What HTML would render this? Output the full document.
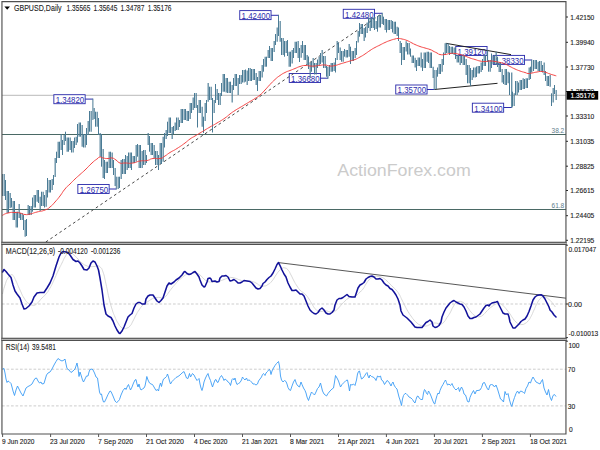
<!DOCTYPE html><html><head><meta charset="utf-8"><title>GBPUSD Daily</title><style>
html,body{margin:0;padding:0;background:#fff;}body{width:600px;height:450px;overflow:hidden;}svg{display:block;}
text{font-family:"Liberation Sans",sans-serif;}
.ax{font-size:7.35px;fill:#222;stroke:#222;stroke-width:0.12px;}.lb{font-size:8.9px;fill:#2c2cac;}.tt{font-size:8.6px;fill:#222;stroke:#222;stroke-width:0.1px;}.fib{font-size:7.2px;fill:#5c7b8a;}
</style></head><body>
<svg width="600" height="450" viewBox="0 0 600 450">
<rect width="600" height="450" fill="#fff"/>
<text x="337.3" y="176.3" font-size="17.2" fill="#cbcbcb" textLength="133.4" lengthAdjust="spacingAndGlyphs">ActionForex.com</text>
<line x1="2" y1="134.5" x2="566" y2="134.5" stroke="#4a6965" stroke-width="1"/>
<line x1="2" y1="209.5" x2="566" y2="209.5" stroke="#4a6965" stroke-width="1"/>
<text class="fib" x="551.5" y="132.9" textLength="12.7" lengthAdjust="spacingAndGlyphs">38.2</text>
<text class="fib" x="551.5" y="207.9" textLength="12.7" lengthAdjust="spacingAndGlyphs">61.8</text>
<line x1="2" y1="95.3" x2="566" y2="95.3" stroke="#b9b9b9" stroke-width="1"/>
<line x1="85.1" y1="99.1" x2="92.9" y2="99.1" stroke="#2c2cac" stroke-width="1"/>
<rect x="53.85" y="94.70" width="31.3" height="9" fill="#fff" stroke="#2c2cac" stroke-width="0.92"/>
<text class="lb" x="55.7" y="103.1" textLength="28.5" lengthAdjust="spacingAndGlyphs">1.34820</text>
<line x1="109.1" y1="189.0" x2="116.3" y2="189.0" stroke="#2c2cac" stroke-width="1"/>
<rect x="77.85" y="184.50" width="31.3" height="9" fill="#fff" stroke="#2c2cac" stroke-width="0.92"/>
<text class="lb" x="79.7" y="192.9" textLength="28.5" lengthAdjust="spacingAndGlyphs">1.26750</text>
<line x1="271.0" y1="15.3" x2="278.5" y2="15.3" stroke="#2c2cac" stroke-width="1"/>
<rect x="239.75" y="10.60" width="31.3" height="9" fill="#fff" stroke="#2c2cac" stroke-width="0.92"/>
<text class="lb" x="241.6" y="19.0" textLength="28.5" lengthAdjust="spacingAndGlyphs">1.42400</text>
<line x1="320.5" y1="78.2" x2="327.9" y2="78.2" stroke="#2c2cac" stroke-width="1"/>
<rect x="289.25" y="73.50" width="31.3" height="9" fill="#fff" stroke="#2c2cac" stroke-width="0.92"/>
<text class="lb" x="291.1" y="81.9" textLength="28.5" lengthAdjust="spacingAndGlyphs">1.36680</text>
<line x1="374.5" y1="13.3" x2="382.2" y2="13.3" stroke="#2c2cac" stroke-width="1"/>
<rect x="343.25" y="9.30" width="31.3" height="9" fill="#fff" stroke="#2c2cac" stroke-width="0.92"/>
<text class="lb" x="345.1" y="17.7" textLength="28.5" lengthAdjust="spacingAndGlyphs">1.42480</text>
<line x1="427.0" y1="89.5" x2="434.2" y2="89.5" stroke="#2c2cac" stroke-width="1"/>
<rect x="395.75" y="85.00" width="31.3" height="9" fill="#fff" stroke="#2c2cac" stroke-width="0.92"/>
<text class="lb" x="397.6" y="93.4" textLength="28.5" lengthAdjust="spacingAndGlyphs">1.35700</text>
<rect x="455.75" y="46.50" width="31.3" height="9" fill="#fff" stroke="#2c2cac" stroke-width="0.92"/>
<text class="lb" x="457.6" y="54.9" textLength="28.5" lengthAdjust="spacingAndGlyphs">1.39120</text>
<line x1="524.5" y1="60.0" x2="531.7" y2="60.0" stroke="#2c2cac" stroke-width="1"/>
<rect x="493.25" y="55.40" width="31.3" height="9" fill="#fff" stroke="#2c2cac" stroke-width="0.92"/>
<text class="lb" x="495.1" y="63.8" textLength="28.5" lengthAdjust="spacingAndGlyphs">1.38330</text>
<line x1="503.6" y1="107.5" x2="511.75" y2="107.5" stroke="#2c2cac" stroke-width="1"/>
<rect x="472.35" y="103.20" width="31.3" height="9" fill="#fff" stroke="#2c2cac" stroke-width="0.92"/>
<text class="lb" x="474.2" y="111.6" textLength="28.5" lengthAdjust="spacingAndGlyphs">1.34100</text>
<line x1="45.8" y1="242" x2="381" y2="14.2" stroke="#484848" stroke-width="1" stroke-dasharray="2.7 2.8"/>
<line x1="445.8" y1="43.3" x2="511" y2="54.6" stroke="#222" stroke-width="1"/>
<line x1="434.2" y1="89.5" x2="497.5" y2="83.3" stroke="#222" stroke-width="1"/>
<g stroke="#4a7b95">
<line x1="2.50" y1="174.0" x2="2.50" y2="196.0" stroke-width="1.0"/>
<line x1="4.17" y1="174.0" x2="4.17" y2="196.0" stroke-width="1.16"/>
<line x1="5.50" y1="180.0" x2="5.50" y2="200.0" stroke-width="1.0"/>
<line x1="7.17" y1="191.0" x2="7.17" y2="213.0" stroke-width="1.16"/>
<line x1="8.50" y1="191.0" x2="8.50" y2="213.0" stroke-width="1.0"/>
<line x1="10.17" y1="193.0" x2="10.17" y2="208.0" stroke-width="1.16"/>
<line x1="11.50" y1="198.0" x2="11.50" y2="207.5" stroke-width="1.0"/>
<line x1="13.17" y1="201.0" x2="13.17" y2="220.0" stroke-width="1.16"/>
<line x1="14.50" y1="201.0" x2="14.50" y2="220.0" stroke-width="1.0"/>
<line x1="16.17" y1="211.7" x2="16.17" y2="227.5" stroke-width="1.16"/>
<line x1="17.50" y1="211.7" x2="17.50" y2="227.5" stroke-width="1.0"/>
<line x1="19.17" y1="204.0" x2="19.17" y2="218.0" stroke-width="1.16"/>
<line x1="20.50" y1="213.0" x2="20.50" y2="220.0" stroke-width="1.0"/>
<line x1="22.17" y1="213.0" x2="22.17" y2="220.0" stroke-width="1.16"/>
<line x1="23.50" y1="215.0" x2="23.50" y2="230.0" stroke-width="1.0"/>
<line x1="25.17" y1="220.0" x2="25.17" y2="236.7" stroke-width="1.16"/>
<line x1="26.50" y1="219.0" x2="26.50" y2="236.0" stroke-width="1.0"/>
<line x1="28.17" y1="205.0" x2="28.17" y2="215.0" stroke-width="1.16"/>
<line x1="29.50" y1="206.0" x2="29.50" y2="215.0" stroke-width="1.0"/>
<line x1="31.17" y1="206.0" x2="31.17" y2="215.0" stroke-width="1.16"/>
<line x1="32.50" y1="197.5" x2="32.50" y2="211.7" stroke-width="1.0"/>
<line x1="34.17" y1="195.0" x2="34.17" y2="207.5" stroke-width="1.16"/>
<line x1="35.50" y1="195.0" x2="35.50" y2="207.5" stroke-width="1.0"/>
<line x1="37.17" y1="190.0" x2="37.17" y2="201.7" stroke-width="1.16"/>
<line x1="38.50" y1="190.0" x2="38.50" y2="203.0" stroke-width="1.0"/>
<line x1="40.17" y1="196.7" x2="40.17" y2="211.0" stroke-width="1.16"/>
<line x1="41.50" y1="191.7" x2="41.50" y2="206.0" stroke-width="1.0"/>
<line x1="43.17" y1="191.7" x2="43.17" y2="206.0" stroke-width="1.16"/>
<line x1="44.50" y1="195.0" x2="44.50" y2="207.5" stroke-width="1.0"/>
<line x1="46.17" y1="190.0" x2="46.17" y2="206.7" stroke-width="1.16"/>
<line x1="47.50" y1="178.0" x2="47.50" y2="197.5" stroke-width="1.0"/>
<line x1="49.17" y1="180.0" x2="49.17" y2="192.5" stroke-width="1.16"/>
<line x1="50.50" y1="180.0" x2="50.50" y2="192.5" stroke-width="1.0"/>
<line x1="52.17" y1="179.0" x2="52.17" y2="190.0" stroke-width="1.16"/>
<line x1="53.50" y1="175.0" x2="53.50" y2="185.0" stroke-width="1.0"/>
<line x1="55.17" y1="158.0" x2="55.17" y2="177.0" stroke-width="1.16"/>
<line x1="56.50" y1="151.7" x2="56.50" y2="163.0" stroke-width="1.0"/>
<line x1="58.17" y1="141.7" x2="58.17" y2="158.0" stroke-width="1.16"/>
<line x1="59.50" y1="141.7" x2="59.50" y2="158.0" stroke-width="1.0"/>
<line x1="61.17" y1="134.0" x2="61.17" y2="150.0" stroke-width="1.16"/>
<line x1="62.50" y1="140.0" x2="62.50" y2="155.0" stroke-width="1.0"/>
<line x1="64.17" y1="135.0" x2="64.17" y2="145.0" stroke-width="1.16"/>
<line x1="65.50" y1="131.7" x2="65.50" y2="141.0" stroke-width="1.0"/>
<line x1="67.17" y1="137.5" x2="67.17" y2="151.7" stroke-width="1.16"/>
<line x1="68.50" y1="137.5" x2="68.50" y2="151.7" stroke-width="1.0"/>
<line x1="70.17" y1="137.5" x2="70.17" y2="150.0" stroke-width="1.16"/>
<line x1="71.50" y1="141.0" x2="71.50" y2="152.5" stroke-width="1.0"/>
<line x1="73.17" y1="141.0" x2="73.17" y2="152.5" stroke-width="1.16"/>
<line x1="74.50" y1="137.5" x2="74.50" y2="148.0" stroke-width="1.0"/>
<line x1="76.17" y1="136.7" x2="76.17" y2="145.0" stroke-width="1.16"/>
<line x1="77.50" y1="124.0" x2="77.50" y2="142.5" stroke-width="1.0"/>
<line x1="79.17" y1="122.5" x2="79.17" y2="136.7" stroke-width="1.16"/>
<line x1="80.50" y1="122.5" x2="80.50" y2="136.7" stroke-width="1.0"/>
<line x1="82.17" y1="125.0" x2="82.17" y2="146.7" stroke-width="1.16"/>
<line x1="83.50" y1="134.0" x2="83.50" y2="147.5" stroke-width="1.0"/>
<line x1="85.17" y1="134.0" x2="85.17" y2="147.5" stroke-width="1.16"/>
<line x1="86.50" y1="128.0" x2="86.50" y2="145.0" stroke-width="1.0"/>
<line x1="88.17" y1="121.0" x2="88.17" y2="135.0" stroke-width="1.16"/>
<line x1="89.50" y1="111.0" x2="89.50" y2="131.7" stroke-width="1.0"/>
<line x1="91.17" y1="111.0" x2="91.17" y2="131.7" stroke-width="1.16"/>
<line x1="92.90" y1="98.6" x2="92.90" y2="120.0" stroke-width="1.0"/>
<line x1="94.17" y1="108.0" x2="94.17" y2="119.0" stroke-width="1.16"/>
<line x1="95.50" y1="111.7" x2="95.50" y2="126.7" stroke-width="1.0"/>
<line x1="97.17" y1="111.7" x2="97.17" y2="126.7" stroke-width="1.16"/>
<line x1="98.50" y1="118.0" x2="98.50" y2="135.0" stroke-width="1.0"/>
<line x1="100.17" y1="133.0" x2="100.17" y2="156.7" stroke-width="1.16"/>
<line x1="101.50" y1="134.0" x2="101.50" y2="166.7" stroke-width="1.0"/>
<line x1="103.17" y1="149.0" x2="103.17" y2="178.0" stroke-width="1.16"/>
<line x1="104.50" y1="160.0" x2="104.50" y2="179.0" stroke-width="1.0"/>
<line x1="106.17" y1="161.7" x2="106.17" y2="173.0" stroke-width="1.16"/>
<line x1="107.50" y1="161.7" x2="107.50" y2="173.0" stroke-width="1.0"/>
<line x1="109.17" y1="151.7" x2="109.17" y2="168.0" stroke-width="1.16"/>
<line x1="110.50" y1="151.7" x2="110.50" y2="168.0" stroke-width="1.0"/>
<line x1="112.17" y1="152.5" x2="112.17" y2="168.0" stroke-width="1.16"/>
<line x1="113.50" y1="160.0" x2="113.50" y2="175.0" stroke-width="1.0"/>
<line x1="115.17" y1="168.0" x2="115.17" y2="186.0" stroke-width="1.16"/>
<line x1="116.30" y1="176.7" x2="116.30" y2="189.5" stroke-width="1.0"/>
<line x1="118.17" y1="176.7" x2="118.17" y2="189.0" stroke-width="1.16"/>
<line x1="119.50" y1="176.7" x2="119.50" y2="188.0" stroke-width="1.0"/>
<line x1="121.17" y1="160.0" x2="121.17" y2="179.0" stroke-width="1.16"/>
<line x1="122.50" y1="159.0" x2="122.50" y2="174.0" stroke-width="1.0"/>
<line x1="124.17" y1="159.0" x2="124.17" y2="174.0" stroke-width="1.16"/>
<line x1="125.50" y1="155.0" x2="125.50" y2="174.0" stroke-width="1.0"/>
<line x1="127.17" y1="156.0" x2="127.17" y2="170.0" stroke-width="1.16"/>
<line x1="128.50" y1="152.5" x2="128.50" y2="168.0" stroke-width="1.0"/>
<line x1="130.17" y1="152.5" x2="130.17" y2="168.0" stroke-width="1.16"/>
<line x1="131.50" y1="152.5" x2="131.50" y2="170.0" stroke-width="1.0"/>
<line x1="133.17" y1="156.0" x2="133.17" y2="163.0" stroke-width="1.16"/>
<line x1="134.50" y1="156.0" x2="134.50" y2="163.0" stroke-width="1.0"/>
<line x1="136.17" y1="145.0" x2="136.17" y2="161.7" stroke-width="1.16"/>
<line x1="137.50" y1="144.0" x2="137.50" y2="156.7" stroke-width="1.0"/>
<line x1="139.17" y1="145.0" x2="139.17" y2="168.0" stroke-width="1.16"/>
<line x1="140.50" y1="145.0" x2="140.50" y2="168.0" stroke-width="1.0"/>
<line x1="142.17" y1="151.0" x2="142.17" y2="168.0" stroke-width="1.16"/>
<line x1="143.50" y1="150.0" x2="143.50" y2="165.0" stroke-width="1.0"/>
<line x1="145.17" y1="150.0" x2="145.17" y2="165.0" stroke-width="1.16"/>
<line x1="146.50" y1="155.0" x2="146.50" y2="163.0" stroke-width="1.0"/>
<line x1="148.17" y1="133.0" x2="148.17" y2="145.0" stroke-width="1.16"/>
<line x1="149.50" y1="136.0" x2="149.50" y2="151.7" stroke-width="1.0"/>
<line x1="151.17" y1="143.0" x2="151.17" y2="155.0" stroke-width="1.16"/>
<line x1="152.50" y1="143.0" x2="152.50" y2="155.0" stroke-width="1.0"/>
<line x1="154.17" y1="145.0" x2="154.17" y2="158.0" stroke-width="1.16"/>
<line x1="155.50" y1="151.0" x2="155.50" y2="165.0" stroke-width="1.0"/>
<line x1="157.17" y1="151.0" x2="157.17" y2="165.0" stroke-width="1.16"/>
<line x1="158.50" y1="155.0" x2="158.50" y2="170.0" stroke-width="1.0"/>
<line x1="160.17" y1="143.0" x2="160.17" y2="164.0" stroke-width="1.16"/>
<line x1="161.50" y1="143.0" x2="161.50" y2="164.0" stroke-width="1.0"/>
<line x1="163.17" y1="136.7" x2="163.17" y2="161.7" stroke-width="1.16"/>
<line x1="164.50" y1="133.0" x2="164.50" y2="147.5" stroke-width="1.0"/>
<line x1="166.17" y1="130.0" x2="166.17" y2="139.0" stroke-width="1.16"/>
<line x1="167.50" y1="121.7" x2="167.50" y2="136.0" stroke-width="1.0"/>
<line x1="169.17" y1="117.5" x2="169.17" y2="133.0" stroke-width="1.16"/>
<line x1="170.50" y1="117.5" x2="170.50" y2="133.0" stroke-width="1.0"/>
<line x1="172.17" y1="127.0" x2="172.17" y2="139.0" stroke-width="1.16"/>
<line x1="173.50" y1="126.0" x2="173.50" y2="134.0" stroke-width="1.0"/>
<line x1="175.17" y1="122.5" x2="175.17" y2="131.0" stroke-width="1.16"/>
<line x1="176.50" y1="117.5" x2="176.50" y2="130.0" stroke-width="1.0"/>
<line x1="178.17" y1="117.5" x2="178.17" y2="130.0" stroke-width="1.16"/>
<line x1="179.50" y1="120.0" x2="179.50" y2="127.0" stroke-width="1.0"/>
<line x1="181.17" y1="109.0" x2="181.17" y2="123.0" stroke-width="1.16"/>
<line x1="182.50" y1="109.0" x2="182.50" y2="123.0" stroke-width="1.0"/>
<line x1="184.17" y1="109.0" x2="184.17" y2="120.0" stroke-width="1.16"/>
<line x1="185.50" y1="109.0" x2="185.50" y2="120.0" stroke-width="1.0"/>
<line x1="187.17" y1="111.0" x2="187.17" y2="121.0" stroke-width="1.16"/>
<line x1="188.50" y1="111.0" x2="188.50" y2="121.0" stroke-width="1.0"/>
<line x1="190.17" y1="103.0" x2="190.17" y2="119.0" stroke-width="1.16"/>
<line x1="191.50" y1="103.0" x2="191.50" y2="113.0" stroke-width="1.0"/>
<line x1="193.17" y1="97.5" x2="193.17" y2="110.0" stroke-width="1.16"/>
<line x1="194.50" y1="93.0" x2="194.50" y2="108.0" stroke-width="1.0"/>
<line x1="196.17" y1="93.0" x2="196.17" y2="108.0" stroke-width="1.16"/>
<line x1="197.50" y1="105.0" x2="197.50" y2="127.5" stroke-width="1.0"/>
<line x1="199.17" y1="100.0" x2="199.17" y2="113.0" stroke-width="1.16"/>
<line x1="200.50" y1="100.0" x2="200.50" y2="113.0" stroke-width="1.0"/>
<line x1="202.17" y1="106.7" x2="202.17" y2="126.7" stroke-width="1.16"/>
<line x1="203.50" y1="116.7" x2="203.50" y2="133.0" stroke-width="1.0"/>
<line x1="205.17" y1="103.0" x2="205.17" y2="121.0" stroke-width="1.16"/>
<line x1="206.50" y1="100.0" x2="206.50" y2="113.0" stroke-width="1.0"/>
<line x1="208.17" y1="83.0" x2="208.17" y2="101.7" stroke-width="1.16"/>
<line x1="209.50" y1="86.7" x2="209.50" y2="100.0" stroke-width="1.0"/>
<line x1="211.17" y1="86.7" x2="211.17" y2="100.0" stroke-width="1.16"/>
<line x1="212.50" y1="98.0" x2="212.50" y2="132.5" stroke-width="1.0"/>
<line x1="214.17" y1="100.0" x2="214.17" y2="113.0" stroke-width="1.16"/>
<line x1="215.50" y1="84.0" x2="215.50" y2="103.0" stroke-width="1.0"/>
<line x1="217.17" y1="89.0" x2="217.17" y2="100.0" stroke-width="1.16"/>
<line x1="218.50" y1="93.0" x2="218.50" y2="105.0" stroke-width="1.0"/>
<line x1="220.17" y1="93.0" x2="220.17" y2="105.0" stroke-width="1.16"/>
<line x1="221.50" y1="83.0" x2="221.50" y2="96.0" stroke-width="1.0"/>
<line x1="223.17" y1="74.0" x2="223.17" y2="91.7" stroke-width="1.16"/>
<line x1="224.50" y1="74.0" x2="224.50" y2="91.7" stroke-width="1.0"/>
<line x1="226.17" y1="78.0" x2="226.17" y2="92.5" stroke-width="1.16"/>
<line x1="227.50" y1="78.0" x2="227.50" y2="93.0" stroke-width="1.0"/>
<line x1="229.17" y1="81.7" x2="229.17" y2="93.0" stroke-width="1.16"/>
<line x1="230.50" y1="81.7" x2="230.50" y2="93.0" stroke-width="1.0"/>
<line x1="232.17" y1="85.0" x2="232.17" y2="102.5" stroke-width="1.16"/>
<line x1="233.50" y1="78.0" x2="233.50" y2="90.0" stroke-width="1.0"/>
<line x1="235.17" y1="74.0" x2="235.17" y2="86.0" stroke-width="1.16"/>
<line x1="236.50" y1="74.0" x2="236.50" y2="86.0" stroke-width="1.0"/>
<line x1="238.17" y1="78.0" x2="238.17" y2="95.0" stroke-width="1.16"/>
<line x1="239.50" y1="75.0" x2="239.50" y2="84.0" stroke-width="1.0"/>
<line x1="241.17" y1="75.0" x2="241.17" y2="84.0" stroke-width="1.16"/>
<line x1="242.50" y1="70.0" x2="242.50" y2="82.5" stroke-width="1.0"/>
<line x1="244.17" y1="70.0" x2="244.17" y2="82.5" stroke-width="1.16"/>
<line x1="245.50" y1="69.5" x2="245.50" y2="81.7" stroke-width="1.0"/>
<line x1="247.17" y1="70.5" x2="247.17" y2="85.0" stroke-width="1.16"/>
<line x1="248.50" y1="68.0" x2="248.50" y2="81.0" stroke-width="1.0"/>
<line x1="250.17" y1="68.0" x2="250.17" y2="81.0" stroke-width="1.16"/>
<line x1="251.50" y1="69.0" x2="251.50" y2="81.0" stroke-width="1.0"/>
<line x1="253.17" y1="69.0" x2="253.17" y2="80.0" stroke-width="1.16"/>
<line x1="254.50" y1="69.0" x2="254.50" y2="80.0" stroke-width="1.0"/>
<line x1="256.17" y1="73.0" x2="256.17" y2="85.0" stroke-width="1.16"/>
<line x1="257.50" y1="77.0" x2="257.50" y2="91.0" stroke-width="1.0"/>
<line x1="259.17" y1="71.0" x2="259.17" y2="81.0" stroke-width="1.16"/>
<line x1="260.50" y1="71.0" x2="260.50" y2="81.0" stroke-width="1.0"/>
<line x1="262.17" y1="65.0" x2="262.17" y2="77.5" stroke-width="1.16"/>
<line x1="263.50" y1="59.0" x2="263.50" y2="71.7" stroke-width="1.0"/>
<line x1="265.17" y1="56.7" x2="265.17" y2="66.7" stroke-width="1.16"/>
<line x1="266.50" y1="56.7" x2="266.50" y2="66.7" stroke-width="1.0"/>
<line x1="268.17" y1="50.0" x2="268.17" y2="58.0" stroke-width="1.16"/>
<line x1="269.50" y1="46.0" x2="269.50" y2="58.0" stroke-width="1.0"/>
<line x1="271.17" y1="48.0" x2="271.17" y2="61.0" stroke-width="1.16"/>
<line x1="272.50" y1="48.0" x2="272.50" y2="61.0" stroke-width="1.0"/>
<line x1="274.17" y1="41.0" x2="274.17" y2="52.0" stroke-width="1.16"/>
<line x1="275.50" y1="34.0" x2="275.50" y2="45.0" stroke-width="1.0"/>
<line x1="277.17" y1="27.5" x2="277.17" y2="41.7" stroke-width="1.16"/>
<line x1="278.50" y1="14.8" x2="278.50" y2="36.0" stroke-width="1.0"/>
<line x1="280.17" y1="21.0" x2="280.17" y2="41.7" stroke-width="1.16"/>
<line x1="281.50" y1="38.0" x2="281.50" y2="55.0" stroke-width="1.0"/>
<line x1="283.17" y1="38.0" x2="283.17" y2="55.0" stroke-width="1.16"/>
<line x1="284.50" y1="41.0" x2="284.50" y2="56.7" stroke-width="1.0"/>
<line x1="286.17" y1="41.0" x2="286.17" y2="53.0" stroke-width="1.16"/>
<line x1="287.50" y1="40.0" x2="287.50" y2="56.0" stroke-width="1.0"/>
<line x1="289.17" y1="51.7" x2="289.17" y2="66.7" stroke-width="1.16"/>
<line x1="290.50" y1="51.7" x2="290.50" y2="66.7" stroke-width="1.0"/>
<line x1="292.17" y1="50.0" x2="292.17" y2="63.5" stroke-width="1.16"/>
<line x1="293.50" y1="48.0" x2="293.50" y2="58.0" stroke-width="1.0"/>
<line x1="295.17" y1="41.7" x2="295.17" y2="53.0" stroke-width="1.16"/>
<line x1="296.50" y1="41.7" x2="296.50" y2="53.0" stroke-width="1.0"/>
<line x1="298.17" y1="41.0" x2="298.17" y2="58.0" stroke-width="1.16"/>
<line x1="299.50" y1="48.0" x2="299.50" y2="62.0" stroke-width="1.0"/>
<line x1="301.17" y1="45.0" x2="301.17" y2="57.7" stroke-width="1.16"/>
<line x1="302.50" y1="41.0" x2="302.50" y2="53.0" stroke-width="1.0"/>
<line x1="304.17" y1="45.0" x2="304.17" y2="60.0" stroke-width="1.16"/>
<line x1="305.50" y1="45.0" x2="305.50" y2="60.0" stroke-width="1.0"/>
<line x1="307.17" y1="55.0" x2="307.17" y2="65.0" stroke-width="1.16"/>
<line x1="308.50" y1="56.5" x2="308.50" y2="69.0" stroke-width="1.0"/>
<line x1="310.17" y1="63.0" x2="310.17" y2="78.0" stroke-width="1.16"/>
<line x1="311.50" y1="61.5" x2="311.50" y2="71.7" stroke-width="1.0"/>
<line x1="313.17" y1="58.0" x2="313.17" y2="67.5" stroke-width="1.16"/>
<line x1="314.50" y1="63.0" x2="314.50" y2="74.5" stroke-width="1.0"/>
<line x1="316.17" y1="63.0" x2="316.17" y2="74.5" stroke-width="1.16"/>
<line x1="317.50" y1="59.5" x2="317.50" y2="68.0" stroke-width="1.0"/>
<line x1="319.17" y1="56.7" x2="319.17" y2="65.5" stroke-width="1.16"/>
<line x1="320.50" y1="53.0" x2="320.50" y2="64.0" stroke-width="1.0"/>
<line x1="322.17" y1="50.0" x2="322.17" y2="62.5" stroke-width="1.16"/>
<line x1="323.50" y1="56.0" x2="323.50" y2="68.0" stroke-width="1.0"/>
<line x1="325.17" y1="56.0" x2="325.17" y2="68.0" stroke-width="1.16"/>
<line x1="326.50" y1="66.0" x2="326.50" y2="76.7" stroke-width="1.0"/>
<line x1="327.90" y1="66.7" x2="327.90" y2="78.7" stroke-width="1.16"/>
<line x1="329.50" y1="65.0" x2="329.50" y2="76.0" stroke-width="1.0"/>
<line x1="331.17" y1="63.0" x2="331.17" y2="71.7" stroke-width="1.16"/>
<line x1="332.50" y1="63.0" x2="332.50" y2="71.7" stroke-width="1.0"/>
<line x1="334.17" y1="62.5" x2="334.17" y2="71.0" stroke-width="1.16"/>
<line x1="335.50" y1="58.0" x2="335.50" y2="72.5" stroke-width="1.0"/>
<line x1="337.17" y1="41.0" x2="337.17" y2="60.0" stroke-width="1.16"/>
<line x1="338.50" y1="42.5" x2="338.50" y2="53.0" stroke-width="1.0"/>
<line x1="340.17" y1="47.5" x2="340.17" y2="60.0" stroke-width="1.16"/>
<line x1="341.50" y1="51.0" x2="341.50" y2="61.7" stroke-width="1.0"/>
<line x1="343.17" y1="51.0" x2="343.17" y2="61.7" stroke-width="1.16"/>
<line x1="344.50" y1="49.0" x2="344.50" y2="56.7" stroke-width="1.0"/>
<line x1="346.17" y1="50.0" x2="346.17" y2="57.5" stroke-width="1.16"/>
<line x1="347.50" y1="50.0" x2="347.50" y2="57.5" stroke-width="1.0"/>
<line x1="349.17" y1="44.0" x2="349.17" y2="56.7" stroke-width="1.16"/>
<line x1="350.50" y1="46.7" x2="350.50" y2="64.0" stroke-width="1.0"/>
<line x1="352.17" y1="51.0" x2="352.17" y2="61.0" stroke-width="1.16"/>
<line x1="353.50" y1="51.0" x2="353.50" y2="61.0" stroke-width="1.0"/>
<line x1="355.17" y1="48.0" x2="355.17" y2="58.0" stroke-width="1.16"/>
<line x1="356.50" y1="41.0" x2="356.50" y2="55.0" stroke-width="1.0"/>
<line x1="358.17" y1="31.0" x2="358.17" y2="42.5" stroke-width="1.16"/>
<line x1="359.50" y1="23.0" x2="359.50" y2="36.7" stroke-width="1.0"/>
<line x1="361.17" y1="24.0" x2="361.17" y2="34.0" stroke-width="1.16"/>
<line x1="362.50" y1="24.0" x2="362.50" y2="34.0" stroke-width="1.0"/>
<line x1="364.17" y1="28.0" x2="364.17" y2="41.0" stroke-width="1.16"/>
<line x1="365.50" y1="26.7" x2="365.50" y2="37.5" stroke-width="1.0"/>
<line x1="367.17" y1="22.5" x2="367.17" y2="33.0" stroke-width="1.16"/>
<line x1="368.50" y1="17.5" x2="368.50" y2="28.0" stroke-width="1.0"/>
<line x1="370.17" y1="18.0" x2="370.17" y2="31.0" stroke-width="1.16"/>
<line x1="371.50" y1="17.5" x2="371.50" y2="28.0" stroke-width="1.0"/>
<line x1="373.17" y1="17.5" x2="373.17" y2="28.0" stroke-width="1.16"/>
<line x1="374.50" y1="16.7" x2="374.50" y2="30.0" stroke-width="1.0"/>
<line x1="376.17" y1="21.0" x2="376.17" y2="29.0" stroke-width="1.16"/>
<line x1="377.50" y1="16.0" x2="377.50" y2="31.7" stroke-width="1.0"/>
<line x1="379.17" y1="15.0" x2="379.17" y2="27.5" stroke-width="1.16"/>
<line x1="380.50" y1="15.0" x2="380.50" y2="27.5" stroke-width="1.0"/>
<line x1="382.20" y1="12.8" x2="382.20" y2="24.0" stroke-width="1.16"/>
<line x1="383.50" y1="16.7" x2="383.50" y2="25.0" stroke-width="1.0"/>
<line x1="385.17" y1="19.0" x2="385.17" y2="30.0" stroke-width="1.16"/>
<line x1="386.50" y1="19.0" x2="386.50" y2="32.5" stroke-width="1.0"/>
<line x1="388.17" y1="20.0" x2="388.17" y2="30.0" stroke-width="1.16"/>
<line x1="389.50" y1="20.0" x2="389.50" y2="30.0" stroke-width="1.0"/>
<line x1="391.17" y1="20.0" x2="391.17" y2="29.0" stroke-width="1.16"/>
<line x1="392.50" y1="21.0" x2="392.50" y2="32.5" stroke-width="1.0"/>
<line x1="394.17" y1="21.7" x2="394.17" y2="34.0" stroke-width="1.16"/>
<line x1="395.50" y1="21.7" x2="395.50" y2="34.0" stroke-width="1.0"/>
<line x1="397.17" y1="26.7" x2="397.17" y2="36.0" stroke-width="1.16"/>
<line x1="398.50" y1="27.5" x2="398.50" y2="41.0" stroke-width="1.0"/>
<line x1="400.17" y1="41.0" x2="400.17" y2="53.0" stroke-width="1.16"/>
<line x1="401.50" y1="43.0" x2="401.50" y2="65.0" stroke-width="1.0"/>
<line x1="403.17" y1="47.0" x2="403.17" y2="60.0" stroke-width="1.16"/>
<line x1="404.50" y1="47.0" x2="404.50" y2="60.0" stroke-width="1.0"/>
<line x1="406.17" y1="41.3" x2="406.17" y2="51.5" stroke-width="1.16"/>
<line x1="407.50" y1="43.0" x2="407.50" y2="54.5" stroke-width="1.0"/>
<line x1="409.17" y1="43.0" x2="409.17" y2="54.5" stroke-width="1.16"/>
<line x1="410.50" y1="48.5" x2="410.50" y2="56.7" stroke-width="1.0"/>
<line x1="412.17" y1="55.5" x2="412.17" y2="63.0" stroke-width="1.16"/>
<line x1="413.50" y1="55.5" x2="413.50" y2="63.0" stroke-width="1.0"/>
<line x1="415.17" y1="57.7" x2="415.17" y2="67.5" stroke-width="1.16"/>
<line x1="416.50" y1="60.0" x2="416.50" y2="71.0" stroke-width="1.0"/>
<line x1="418.17" y1="57.5" x2="418.17" y2="66.0" stroke-width="1.16"/>
<line x1="419.50" y1="57.5" x2="419.50" y2="66.0" stroke-width="1.0"/>
<line x1="421.17" y1="52.5" x2="421.17" y2="67.5" stroke-width="1.16"/>
<line x1="422.50" y1="59.0" x2="422.50" y2="71.0" stroke-width="1.0"/>
<line x1="424.17" y1="52.5" x2="424.17" y2="68.0" stroke-width="1.16"/>
<line x1="425.50" y1="52.5" x2="425.50" y2="68.0" stroke-width="1.0"/>
<line x1="427.17" y1="51.7" x2="427.17" y2="61.7" stroke-width="1.16"/>
<line x1="428.50" y1="51.7" x2="428.50" y2="63.0" stroke-width="1.0"/>
<line x1="430.17" y1="52.5" x2="430.17" y2="68.0" stroke-width="1.16"/>
<line x1="431.50" y1="52.5" x2="431.50" y2="68.0" stroke-width="1.0"/>
<line x1="433.17" y1="66.7" x2="433.17" y2="78.0" stroke-width="1.16"/>
<line x1="434.20" y1="70.0" x2="434.20" y2="90.0" stroke-width="1.0"/>
<line x1="436.17" y1="70.0" x2="436.17" y2="89.0" stroke-width="1.16"/>
<line x1="437.50" y1="67.5" x2="437.50" y2="76.7" stroke-width="1.0"/>
<line x1="439.17" y1="64.0" x2="439.17" y2="74.0" stroke-width="1.16"/>
<line x1="440.50" y1="64.0" x2="440.50" y2="74.0" stroke-width="1.0"/>
<line x1="442.17" y1="59.0" x2="442.17" y2="71.7" stroke-width="1.16"/>
<line x1="443.50" y1="52.5" x2="443.50" y2="65.0" stroke-width="1.0"/>
<line x1="445.17" y1="43.3" x2="445.17" y2="55.0" stroke-width="1.16"/>
<line x1="446.50" y1="43.3" x2="446.50" y2="53.0" stroke-width="1.0"/>
<line x1="448.17" y1="43.3" x2="448.17" y2="53.0" stroke-width="1.16"/>
<line x1="449.50" y1="46.0" x2="449.50" y2="55.0" stroke-width="1.0"/>
<line x1="451.17" y1="46.7" x2="451.17" y2="54.0" stroke-width="1.16"/>
<line x1="452.50" y1="46.7" x2="452.50" y2="54.0" stroke-width="1.0"/>
<line x1="454.17" y1="47.5" x2="454.17" y2="55.0" stroke-width="1.16"/>
<line x1="455.50" y1="48.0" x2="455.50" y2="59.0" stroke-width="1.0"/>
<line x1="457.17" y1="55.0" x2="457.17" y2="62.5" stroke-width="1.16"/>
<line x1="458.50" y1="55.0" x2="458.50" y2="62.5" stroke-width="1.0"/>
<line x1="460.17" y1="56.0" x2="460.17" y2="65.0" stroke-width="1.16"/>
<line x1="461.50" y1="56.0" x2="461.50" y2="63.0" stroke-width="1.0"/>
<line x1="463.17" y1="55.0" x2="463.17" y2="65.0" stroke-width="1.16"/>
<line x1="464.50" y1="55.0" x2="464.50" y2="65.0" stroke-width="1.0"/>
<line x1="466.17" y1="59.0" x2="466.17" y2="75.0" stroke-width="1.16"/>
<line x1="467.50" y1="65.0" x2="467.50" y2="83.3" stroke-width="1.0"/>
<line x1="469.17" y1="65.0" x2="469.17" y2="83.3" stroke-width="1.16"/>
<line x1="470.50" y1="68.0" x2="470.50" y2="86.0" stroke-width="1.0"/>
<line x1="472.17" y1="70.0" x2="472.17" y2="80.0" stroke-width="1.16"/>
<line x1="473.50" y1="67.5" x2="473.50" y2="77.5" stroke-width="1.0"/>
<line x1="475.17" y1="67.5" x2="475.17" y2="77.5" stroke-width="1.16"/>
<line x1="476.50" y1="66.5" x2="476.50" y2="77.0" stroke-width="1.0"/>
<line x1="478.17" y1="66.0" x2="478.17" y2="73.5" stroke-width="1.16"/>
<line x1="479.50" y1="66.0" x2="479.50" y2="73.5" stroke-width="1.0"/>
<line x1="481.17" y1="62.5" x2="481.17" y2="72.0" stroke-width="1.16"/>
<line x1="482.50" y1="59.0" x2="482.50" y2="70.0" stroke-width="1.0"/>
<line x1="484.17" y1="55.0" x2="484.17" y2="66.0" stroke-width="1.16"/>
<line x1="485.50" y1="55.0" x2="485.50" y2="66.0" stroke-width="1.0"/>
<line x1="487.50" y1="50.4" x2="487.50" y2="62.0" stroke-width="1.16"/>
<line x1="488.50" y1="60.0" x2="488.50" y2="71.7" stroke-width="1.0"/>
<line x1="490.17" y1="60.0" x2="490.17" y2="71.7" stroke-width="1.16"/>
<line x1="491.50" y1="53.5" x2="491.50" y2="68.0" stroke-width="1.0"/>
<line x1="493.17" y1="55.5" x2="493.17" y2="64.0" stroke-width="1.16"/>
<line x1="494.50" y1="55.5" x2="494.50" y2="64.0" stroke-width="1.0"/>
<line x1="496.17" y1="51.7" x2="496.17" y2="65.0" stroke-width="1.16"/>
<line x1="497.50" y1="56.7" x2="497.50" y2="67.0" stroke-width="1.0"/>
<line x1="499.17" y1="62.0" x2="499.17" y2="72.0" stroke-width="1.16"/>
<line x1="500.50" y1="62.0" x2="500.50" y2="72.0" stroke-width="1.0"/>
<line x1="502.17" y1="69.0" x2="502.17" y2="82.5" stroke-width="1.16"/>
<line x1="503.50" y1="75.0" x2="503.50" y2="84.0" stroke-width="1.0"/>
<line x1="505.17" y1="69.0" x2="505.17" y2="85.0" stroke-width="1.16"/>
<line x1="506.50" y1="69.0" x2="506.50" y2="85.0" stroke-width="1.0"/>
<line x1="508.17" y1="71.7" x2="508.17" y2="83.3" stroke-width="1.16"/>
<line x1="509.50" y1="72.5" x2="509.50" y2="95.0" stroke-width="1.0"/>
<line x1="511.75" y1="72.5" x2="511.75" y2="108.0" stroke-width="1.16"/>
<line x1="512.50" y1="91.7" x2="512.50" y2="106.7" stroke-width="1.0"/>
<line x1="514.17" y1="93.3" x2="514.17" y2="106.0" stroke-width="1.16"/>
<line x1="515.50" y1="81.0" x2="515.50" y2="95.0" stroke-width="1.0"/>
<line x1="517.17" y1="81.0" x2="517.17" y2="95.0" stroke-width="1.16"/>
<line x1="518.50" y1="82.5" x2="518.50" y2="92.5" stroke-width="1.0"/>
<line x1="520.17" y1="80.0" x2="520.17" y2="90.0" stroke-width="1.16"/>
<line x1="521.50" y1="80.0" x2="521.50" y2="90.0" stroke-width="1.0"/>
<line x1="523.17" y1="78.3" x2="523.17" y2="89.0" stroke-width="1.16"/>
<line x1="524.50" y1="79.0" x2="524.50" y2="89.0" stroke-width="1.0"/>
<line x1="526.17" y1="78.3" x2="526.17" y2="88.0" stroke-width="1.16"/>
<line x1="527.50" y1="78.3" x2="527.50" y2="88.0" stroke-width="1.0"/>
<line x1="529.17" y1="67.5" x2="529.17" y2="80.0" stroke-width="1.16"/>
<line x1="530.50" y1="66.7" x2="530.50" y2="79.0" stroke-width="1.0"/>
<line x1="531.70" y1="59.5" x2="531.70" y2="72.5" stroke-width="1.16"/>
<line x1="533.50" y1="60.0" x2="533.50" y2="71.0" stroke-width="1.0"/>
<line x1="535.17" y1="60.0" x2="535.17" y2="69.0" stroke-width="1.16"/>
<line x1="536.50" y1="60.0" x2="536.50" y2="69.0" stroke-width="1.0"/>
<line x1="538.17" y1="61.7" x2="538.17" y2="71.0" stroke-width="1.16"/>
<line x1="539.50" y1="61.0" x2="539.50" y2="71.7" stroke-width="1.0"/>
<line x1="541.17" y1="61.0" x2="541.17" y2="71.7" stroke-width="1.16"/>
<line x1="542.50" y1="65.0" x2="542.50" y2="72.5" stroke-width="1.0"/>
<line x1="544.17" y1="62.5" x2="544.17" y2="75.0" stroke-width="1.16"/>
<line x1="545.50" y1="71.0" x2="545.50" y2="81.0" stroke-width="1.0"/>
<line x1="547.17" y1="76.0" x2="547.17" y2="86.0" stroke-width="1.16"/>
<line x1="548.50" y1="76.0" x2="548.50" y2="86.0" stroke-width="1.0"/>
<line x1="550.17" y1="75.0" x2="550.17" y2="86.7" stroke-width="1.16"/>
<line x1="551.50" y1="93.3" x2="551.50" y2="106.0" stroke-width="1.0"/>
<line x1="553.17" y1="88.0" x2="553.17" y2="102.5" stroke-width="1.16"/>
<line x1="554.50" y1="85.0" x2="554.50" y2="94.0" stroke-width="1.0"/>
<line x1="556.17" y1="90.0" x2="556.17" y2="100.0" stroke-width="1.16"/>
</g>
<path d="M2.0 215.5C4.0 214.7 3.7 214.0 8.0 213.0C12.3 212.0 11.0 212.5 15.0 212.5C19.0 212.5 16.7 212.3 20.0 213.0C23.3 213.7 21.7 214.2 25.0 214.5C28.3 214.8 26.0 214.8 30.0 214.0C34.0 213.2 32.0 213.3 37.0 212.0C42.0 210.7 40.7 211.7 45.0 210.0C49.3 208.3 46.7 209.7 50.0 207.0C53.3 204.3 51.7 205.7 55.0 202.0C58.3 198.3 56.7 200.3 60.0 196.0C63.3 191.7 61.7 193.0 65.0 189.0C68.3 185.0 66.7 187.3 70.0 184.0C73.3 180.7 71.7 182.2 75.0 179.0C78.3 175.8 76.7 177.5 80.0 174.5C83.3 171.5 81.0 173.8 85.0 170.0C89.0 166.2 88.0 166.7 92.0 163.0C96.0 159.3 94.3 161.0 97.0 159.0C99.7 157.0 98.0 157.3 100.0 157.0C102.0 156.7 100.3 157.5 103.0 158.0C105.7 158.5 105.0 158.5 108.0 158.5C111.0 158.5 109.3 157.5 112.0 158.0C114.7 158.5 113.3 158.3 116.0 160.0C118.7 161.7 117.0 162.0 120.0 163.0C123.0 164.0 120.7 163.0 125.0 163.0C129.3 163.0 128.0 163.7 133.0 163.0C138.0 162.3 135.3 161.8 140.0 161.0C144.7 160.2 142.7 161.3 147.0 160.5C151.3 159.7 148.7 159.2 153.0 158.5C157.3 157.8 156.0 159.3 160.0 158.5C164.0 157.7 161.7 158.0 165.0 156.0C168.3 154.0 166.0 155.0 170.0 152.5C174.0 150.0 172.0 151.7 177.0 148.5C182.0 145.3 180.7 146.2 185.0 143.0C189.3 139.8 186.7 141.3 190.0 139.0C193.3 136.7 191.7 138.0 195.0 136.0C198.3 134.0 196.7 135.0 200.0 133.0C203.3 131.0 201.7 132.0 205.0 130.0C208.3 128.0 206.0 129.3 210.0 127.0C214.0 124.7 212.0 126.0 217.0 123.0C222.0 120.0 220.7 121.0 225.0 118.0C229.3 115.0 226.7 116.5 230.0 114.0C233.3 111.5 231.7 112.7 235.0 110.5C238.3 108.3 236.7 109.5 240.0 107.5C243.3 105.5 241.7 106.5 245.0 104.5C248.3 102.5 246.7 103.5 250.0 101.5C253.3 99.5 251.7 100.7 255.0 98.5C258.3 96.3 256.7 97.8 260.0 95.0C263.3 92.2 261.7 93.5 265.0 90.0C268.3 86.5 266.7 88.0 270.0 84.5C273.3 81.0 271.7 82.5 275.0 79.5C278.3 76.5 276.7 77.8 280.0 75.5C283.3 73.2 281.7 74.2 285.0 72.5C288.3 70.8 286.7 71.8 290.0 70.5C293.3 69.2 291.7 69.8 295.0 68.5C298.3 67.2 296.7 67.5 300.0 66.5C303.3 65.5 301.7 65.7 305.0 65.5C308.3 65.3 306.7 65.8 310.0 66.0C313.3 66.2 311.7 66.2 315.0 66.0C318.3 65.8 316.7 65.6 320.0 65.3C323.3 65.0 321.7 64.8 325.0 65.0C328.3 65.2 326.7 65.8 330.0 66.0C333.3 66.2 331.7 66.2 335.0 65.5C338.3 64.8 336.7 65.0 340.0 64.0C343.3 63.0 341.7 63.5 345.0 62.5C348.3 61.5 346.7 62.0 350.0 61.0C353.3 60.0 351.7 60.8 355.0 59.5C358.3 58.2 356.7 58.8 360.0 57.0C363.3 55.2 361.7 56.2 365.0 54.0C368.3 51.8 366.7 52.7 370.0 50.5C373.3 48.3 371.7 49.3 375.0 47.5C378.3 45.7 376.7 46.7 380.0 45.0C383.3 43.3 381.7 44.0 385.0 42.5C388.3 41.0 386.7 41.7 390.0 40.5C393.3 39.3 392.3 39.7 395.0 39.0C397.7 38.3 395.7 38.5 398.0 38.5C400.3 38.5 399.0 38.3 402.0 39.0C405.0 39.7 403.7 39.2 407.0 40.5C410.3 41.8 409.3 41.7 412.0 43.0C414.7 44.3 412.3 43.3 415.0 44.5C417.7 45.7 416.7 45.3 420.0 46.5C423.3 47.7 421.7 47.0 425.0 48.0C428.3 49.0 427.3 48.5 430.0 49.5C432.7 50.5 430.7 49.8 433.0 51.0C435.3 52.2 434.7 51.8 437.0 53.0C439.3 54.2 437.3 54.0 440.0 54.5C442.7 55.0 441.7 54.8 445.0 54.5C448.3 54.2 446.7 53.8 450.0 53.5C453.3 53.2 451.7 53.2 455.0 53.5C458.3 53.8 456.7 53.7 460.0 54.5C463.3 55.3 461.7 54.8 465.0 56.0C468.3 57.2 466.7 56.8 470.0 58.0C473.3 59.2 471.7 58.5 475.0 59.5C478.3 60.5 476.7 60.3 480.0 61.0C483.3 61.7 481.7 61.5 485.0 61.5C488.3 61.5 486.7 61.0 490.0 61.0C493.3 61.0 491.7 61.0 495.0 61.5C498.3 62.0 496.7 61.7 500.0 62.5C503.3 63.3 501.7 62.7 505.0 64.0C508.3 65.3 506.7 64.8 510.0 66.5C513.3 68.2 511.7 67.5 515.0 69.0C518.3 70.5 516.7 69.8 520.0 71.0C523.3 72.2 522.3 71.7 525.0 72.5C527.7 73.3 525.7 73.3 528.0 73.5C530.3 73.7 529.0 73.5 532.0 73.0C535.0 72.5 533.7 72.5 537.0 72.0C540.3 71.5 539.0 71.3 542.0 71.5C545.0 71.7 543.3 71.7 546.0 72.5C548.7 73.3 547.0 73.0 550.0 74.0C553.0 75.0 553.0 74.9 555.0 75.5C557.0 76.1 555.7 75.6 556.0 75.7" fill="none" stroke="#f23a3a" stroke-width="0.95"/>
<line x1="2" y1="304" x2="566" y2="304" stroke="#cdcdcd" stroke-width="1" stroke-dasharray="2.7 1.8"/>
<path d="M2.5 294.0C3.3 291.0 3.2 290.3 5.0 285.0C6.8 279.7 6.0 281.3 8.0 278.0C10.0 274.7 9.3 275.8 11.0 275.0C12.7 274.2 11.3 273.5 13.0 275.5C14.7 277.5 13.7 276.2 16.0 281.0C18.3 285.8 17.3 284.3 20.0 290.0C22.7 295.7 21.3 293.7 24.0 298.0C26.7 302.3 25.3 300.7 28.0 303.0C30.7 305.3 29.7 304.3 32.0 305.0C34.3 305.7 33.0 305.8 35.0 305.0C37.0 304.2 35.7 304.8 38.0 302.5C40.3 300.2 39.3 300.8 42.0 298.0C44.7 295.2 43.3 297.3 46.0 294.0C48.7 290.7 47.3 292.7 50.0 288.0C52.7 283.3 51.3 285.7 54.0 280.0C56.7 274.3 55.3 276.7 58.0 271.0C60.7 265.3 59.7 267.7 62.0 263.0C64.3 258.3 63.0 260.3 65.0 257.0C67.0 253.7 66.0 254.3 68.0 253.0C70.0 251.7 69.0 252.3 71.0 253.0C73.0 253.7 71.7 253.0 74.0 255.0C76.3 257.0 75.3 256.3 78.0 259.0C80.7 261.7 79.3 260.8 82.0 263.0C84.7 265.2 83.3 264.3 86.0 265.5C88.7 266.7 87.3 266.2 90.0 266.5C92.7 266.8 91.3 266.7 94.0 266.5C96.7 266.3 96.0 265.8 98.0 266.0C100.0 266.2 98.3 265.0 100.0 267.0C101.7 269.0 101.0 266.3 103.0 272.0C105.0 277.7 104.0 275.3 106.0 284.0C108.0 292.7 107.0 289.7 109.0 298.0C111.0 306.3 110.0 302.7 112.0 309.0C114.0 315.3 113.0 312.3 115.0 317.0C117.0 321.7 116.0 319.7 118.0 323.0C120.0 326.3 119.0 325.2 121.0 327.0C123.0 328.8 122.0 328.2 124.0 328.5C126.0 328.8 125.0 328.8 127.0 328.0C129.0 327.2 128.0 328.3 130.0 326.0C132.0 323.7 131.0 324.7 133.0 321.0C135.0 317.3 134.0 318.7 136.0 315.0C138.0 311.3 137.0 313.0 139.0 310.0C141.0 307.0 140.0 308.2 142.0 306.0C144.0 303.8 143.0 305.0 145.0 303.5C147.0 302.0 146.0 302.8 148.0 301.5C150.0 300.2 149.0 300.7 151.0 299.5C153.0 298.3 152.0 298.7 154.0 298.0C156.0 297.3 155.0 297.7 157.0 297.5C159.0 297.3 158.0 297.3 160.0 297.5C162.0 297.7 161.0 298.5 163.0 298.0C165.0 297.5 164.0 298.0 166.0 296.0C168.0 294.0 167.0 294.7 169.0 292.0C171.0 289.3 170.0 290.5 172.0 288.0C174.0 285.5 173.0 286.8 175.0 284.5C177.0 282.2 176.0 283.0 178.0 281.0C180.0 279.0 179.0 280.2 181.0 278.5C183.0 276.8 181.7 277.5 184.0 276.0C186.3 274.5 185.3 274.8 188.0 274.0C190.7 273.2 189.3 273.8 192.0 273.5C194.7 273.2 193.3 272.5 196.0 273.0C198.7 273.5 197.3 273.0 200.0 275.0C202.7 277.0 201.3 276.8 204.0 279.0C206.7 281.2 205.3 280.5 208.0 281.5C210.7 282.5 209.3 281.8 212.0 282.0C214.7 282.2 213.3 282.3 216.0 282.0C218.7 281.7 217.3 281.8 220.0 281.0C222.7 280.2 221.3 280.5 224.0 279.5C226.7 278.5 225.3 278.7 228.0 278.0C230.7 277.3 229.3 277.3 232.0 277.5C234.7 277.7 233.3 277.7 236.0 278.5C238.7 279.3 237.3 279.2 240.0 280.0C242.7 280.8 241.3 280.7 244.0 281.0C246.7 281.3 245.3 280.8 248.0 281.0C250.7 281.2 249.3 280.8 252.0 281.5C254.7 282.2 253.3 281.7 256.0 283.0C258.7 284.3 257.3 284.5 260.0 285.5C262.7 286.5 261.3 286.3 264.0 286.0C266.7 285.7 265.3 286.2 268.0 284.5C270.7 282.8 269.3 284.2 272.0 281.0C274.7 277.8 273.7 278.3 276.0 275.0C278.3 271.7 277.0 273.2 279.0 271.0C281.0 268.8 280.0 269.5 282.0 268.5C284.0 267.5 283.0 267.5 285.0 268.0C287.0 268.5 286.0 267.7 288.0 270.0C290.0 272.3 289.0 271.3 291.0 275.0C293.0 278.7 292.0 277.3 294.0 281.0C296.0 284.7 295.0 283.0 297.0 286.0C299.0 289.0 298.0 287.8 300.0 290.0C302.0 292.2 301.0 290.8 303.0 292.5C305.0 294.2 304.0 292.8 306.0 295.0C308.0 297.2 307.0 296.0 309.0 299.0C311.0 302.0 310.0 300.8 312.0 304.0C314.0 307.2 313.0 306.2 315.0 308.5C317.0 310.8 316.0 310.0 318.0 311.0C320.0 312.0 319.0 311.5 321.0 311.5C323.0 311.5 322.0 311.2 324.0 311.0C326.0 310.8 325.0 310.7 327.0 311.0C329.0 311.3 328.0 311.7 330.0 312.0C332.0 312.3 331.0 312.5 333.0 312.0C335.0 311.5 334.0 312.0 336.0 310.5C338.0 309.0 337.0 309.7 339.0 307.5C341.0 305.3 340.0 306.2 342.0 304.0C344.0 301.8 343.0 302.8 345.0 301.0C347.0 299.2 346.0 299.8 348.0 298.5C350.0 297.2 349.0 297.7 351.0 297.0C353.0 296.3 352.0 297.2 354.0 296.5C356.0 295.8 355.0 296.5 357.0 295.0C359.0 293.5 358.0 294.0 360.0 292.0C362.0 290.0 361.0 291.7 363.0 289.0C365.0 286.3 364.0 287.0 366.0 284.0C368.0 281.0 367.0 282.2 369.0 280.0C371.0 277.8 370.0 278.7 372.0 277.5C374.0 276.3 373.0 276.8 375.0 276.5C377.0 276.2 376.0 276.3 378.0 276.5C380.0 276.7 379.0 276.3 381.0 277.0C383.0 277.7 382.0 277.2 384.0 278.5C386.0 279.8 385.0 279.2 387.0 281.0C389.0 282.8 388.0 282.0 390.0 284.0C392.0 286.0 391.0 285.0 393.0 287.0C395.0 289.0 394.0 287.7 396.0 290.0C398.0 292.3 397.0 290.7 399.0 294.0C401.0 297.3 400.0 296.0 402.0 300.0C404.0 304.0 403.0 302.2 405.0 306.0C407.0 309.8 406.0 308.2 408.0 311.5C410.0 314.8 409.0 313.2 411.0 316.0C413.0 318.8 412.0 317.7 414.0 320.0C416.0 322.3 415.0 321.3 417.0 323.0C419.0 324.7 418.0 324.0 420.0 325.0C422.0 326.0 421.0 325.7 423.0 326.0C425.0 326.3 424.0 326.3 426.0 326.0C428.0 325.7 427.0 325.8 429.0 325.0C431.0 324.2 430.0 324.2 432.0 323.5C434.0 322.8 433.0 323.0 435.0 323.0C437.0 323.0 436.0 323.2 438.0 323.5C440.0 323.8 439.0 324.5 441.0 324.0C443.0 323.5 442.0 324.2 444.0 322.0C446.0 319.8 445.0 320.5 447.0 317.5C449.0 314.5 448.0 316.5 450.0 313.0C452.0 309.5 451.0 310.3 453.0 307.0C455.0 303.7 454.0 304.8 456.0 303.0C458.0 301.2 457.0 301.8 459.0 301.5C461.0 301.2 460.0 301.2 462.0 302.0C464.0 302.8 463.0 302.0 465.0 304.0C467.0 306.0 466.0 305.3 468.0 308.0C470.0 310.7 469.0 309.7 471.0 312.0C473.0 314.3 472.0 313.5 474.0 315.0C476.0 316.5 475.0 316.0 477.0 316.5C479.0 317.0 478.0 317.0 480.0 316.5C482.0 316.0 481.0 316.5 483.0 315.0C485.0 313.5 484.0 314.0 486.0 312.0C488.0 310.0 487.0 310.8 489.0 309.0C491.0 307.2 490.0 308.0 492.0 306.5C494.0 305.0 493.0 305.5 495.0 304.5C497.0 303.5 496.0 303.7 498.0 303.5C500.0 303.3 499.0 303.0 501.0 304.0C503.0 305.0 502.0 304.5 504.0 306.5C506.0 308.5 505.0 307.5 507.0 310.0C509.0 312.5 508.0 311.2 510.0 314.0C512.0 316.8 511.0 315.8 513.0 318.5C515.0 321.2 514.0 320.2 516.0 322.0C518.0 323.8 517.0 323.2 519.0 324.0C521.0 324.8 520.0 324.7 522.0 324.5C524.0 324.3 523.0 324.7 525.0 323.5C527.0 322.3 526.0 323.3 528.0 321.0C530.0 318.7 529.0 320.2 531.0 316.5C533.0 312.8 532.0 314.3 534.0 310.0C536.0 305.7 535.0 307.2 537.0 303.5C539.0 299.8 538.0 301.2 540.0 299.0C542.0 296.8 541.0 297.5 543.0 297.0C545.0 296.5 544.0 296.7 546.0 297.5C548.0 298.3 547.0 297.8 549.0 299.5C551.0 301.2 549.9 300.0 552.0 302.5C554.1 305.0 554.3 305.5 555.4 307.0" fill="none" stroke="#cecece" stroke-width="0.8"/>
<line x1="278.5" y1="262.6" x2="566" y2="298.2" stroke="#444" stroke-width="0.9"/>
<polyline points="2.5,272.0 4.0,269.5 6.0,271.5 8.0,274.0 11.0,277.5 13.0,285.0 15.0,291.0 17.0,294.0 20.0,298.0 22.0,304.0 24.0,309.0 26.0,308.5 29.0,306.0 32.0,302.0 34.0,297.0 37.0,293.0 40.0,292.5 44.0,292.5 47.0,288.0 50.0,283.0 53.0,276.0 56.0,266.0 59.0,257.0 61.0,253.0 63.0,251.5 66.0,252.0 68.0,252.5 70.0,255.0 73.0,259.5 76.0,261.5 78.0,261.0 80.0,263.0 82.0,266.0 84.0,269.5 87.0,270.0 89.0,268.0 91.0,263.0 93.0,261.0 95.0,262.0 97.0,266.0 98.5,270.0 100.0,278.0 102.0,290.0 104.0,305.0 106.0,314.0 108.0,316.0 111.0,317.5 113.0,321.0 115.0,326.0 117.0,330.0 119.0,333.0 120.0,333.5 122.0,331.0 124.0,327.0 126.0,322.0 128.0,317.0 130.0,315.0 132.0,313.5 134.0,308.0 136.0,304.0 138.0,302.5 140.0,302.5 142.0,304.0 145.0,304.0 146.0,299.0 148.0,296.0 150.0,295.0 153.0,295.0 155.0,298.0 157.0,301.0 159.0,302.5 161.0,300.5 163.0,298.0 165.0,292.0 167.0,286.0 169.0,283.0 171.0,284.0 174.0,282.0 176.0,280.0 179.0,278.0 180.0,277.0 182.0,275.0 184.0,272.0 185.0,271.5 187.0,273.5 189.0,274.5 191.0,274.0 193.0,272.5 195.0,271.5 197.0,274.0 199.0,277.0 200.0,280.0 202.0,285.0 204.0,287.0 205.0,286.5 207.0,282.0 208.0,278.5 210.0,278.0 211.0,279.0 212.0,281.5 215.0,281.0 217.0,282.0 219.0,281.5 220.0,278.0 222.0,276.0 224.0,276.0 226.0,275.5 228.0,277.0 229.0,279.0 230.0,281.0 232.0,280.5 234.0,279.5 236.0,281.0 238.0,283.0 240.0,283.0 242.0,282.0 244.0,280.5 247.0,281.0 250.0,281.5 252.0,283.0 254.0,285.5 256.0,288.0 258.0,289.0 260.0,288.5 262.0,286.0 263.0,283.5 265.0,282.0 267.0,279.5 269.0,277.5 271.0,276.0 273.0,273.0 275.0,269.0 277.0,264.5 278.5,262.6 280.0,265.5 282.0,270.0 284.0,274.0 286.0,277.0 288.0,283.0 290.0,287.0 292.0,290.5 294.0,290.5 296.0,290.0 298.0,292.0 300.0,294.0 302.0,294.0 304.0,296.0 306.0,301.0 308.0,306.0 310.0,310.0 312.0,312.0 314.0,313.5 316.0,314.0 318.0,312.5 320.0,309.5 322.0,308.0 324.0,310.0 326.0,313.0 328.0,314.0 330.0,314.0 332.0,312.5 334.0,310.0 335.0,305.0 337.0,300.0 339.0,298.5 341.0,298.5 343.0,297.5 345.0,296.0 347.0,294.5 349.0,296.5 352.0,297.0 355.0,297.0 356.0,294.0 358.0,288.0 360.0,285.0 362.0,284.0 364.0,282.5 366.0,279.0 368.0,277.5 370.0,276.5 372.0,276.0 374.0,277.0 376.0,279.0 378.0,279.0 380.0,278.5 382.0,280.0 384.0,283.0 386.0,285.0 388.0,286.0 390.0,288.5 392.0,289.5 394.0,292.0 396.0,295.0 398.0,299.0 400.0,305.0 401.0,311.0 403.0,315.0 405.0,316.5 407.0,318.0 409.0,320.0 411.0,322.0 413.0,324.5 415.0,327.0 417.0,327.5 420.0,327.5 422.0,327.5 424.0,325.0 426.0,322.5 428.0,321.5 430.0,320.0 432.0,322.0 433.0,326.0 435.0,327.5 437.0,327.0 439.0,325.5 441.0,322.0 442.0,317.0 444.0,312.0 446.0,308.0 448.0,305.5 450.0,303.0 452.0,301.5 454.0,300.5 456.0,302.0 458.0,303.0 460.0,304.0 462.0,304.5 464.0,307.0 466.0,311.0 468.0,316.0 470.0,318.5 472.0,318.5 474.0,317.5 476.0,317.0 478.0,315.5 480.0,314.0 482.0,311.0 484.0,308.0 486.0,305.5 488.0,305.0 489.0,306.0 490.0,304.5 492.0,303.0 494.0,302.5 496.0,302.0 497.5,301.5 499.0,305.0 501.0,309.0 503.0,313.0 505.0,314.0 508.0,314.0 509.0,317.0 510.0,322.0 512.0,326.0 513.0,328.0 515.0,328.0 517.0,326.0 519.0,324.0 521.0,321.5 523.0,320.0 525.0,319.0 527.0,316.0 529.0,311.5 531.0,306.0 533.0,300.0 535.0,297.0 537.0,295.5 539.0,295.0 541.0,294.7 543.0,296.0 545.0,299.0 547.0,303.0 549.0,307.0 550.0,310.0 552.0,312.0 554.0,315.0 556.0,317.0" fill="none" stroke="#12129a" stroke-width="1.55" stroke-linejoin="round" stroke-linecap="round"/>
<line x1="2" y1="369.2" x2="566" y2="369.2" stroke="#cdcdcd" stroke-width="1" stroke-dasharray="2.7 1.8"/>
<line x1="2" y1="405.9" x2="566" y2="405.9" stroke="#cdcdcd" stroke-width="1" stroke-dasharray="2.7 1.8"/>
<polyline points="2.5,369.0 4.0,368.5 5.0,373.0 6.0,379.0 7.0,382.5 8.0,381.0 9.0,381.5 11.0,383.5 12.0,387.0 13.0,391.0 14.5,395.5 16.0,390.0 17.5,386.0 19.0,389.0 21.0,393.0 23.0,396.0 24.5,392.0 26.0,388.0 28.0,386.5 30.0,385.5 32.0,384.0 33.5,381.0 35.0,378.5 36.5,378.0 38.0,381.0 39.5,383.0 41.0,382.0 42.0,384.0 44.0,383.5 45.0,380.0 46.5,375.0 48.0,373.0 50.0,372.0 52.0,369.0 54.0,365.0 56.0,361.5 58.0,358.5 60.0,360.0 62.0,361.0 64.0,360.0 65.0,359.0 66.0,364.0 67.0,368.5 69.0,370.0 71.0,372.5 73.0,371.0 75.0,369.0 76.0,366.0 77.0,363.0 78.0,368.0 79.0,376.5 80.0,372.0 81.0,375.0 82.5,380.0 83.5,382.0 85.0,379.0 86.5,376.0 88.0,376.0 89.0,372.0 90.0,369.5 92.0,369.0 93.0,370.0 94.5,373.0 96.0,377.0 97.5,378.0 98.5,385.0 99.5,392.0 100.5,394.5 101.5,394.0 102.5,399.0 103.5,402.0 104.5,402.0 106.0,399.0 108.0,394.5 110.0,391.0 111.0,391.5 113.0,396.0 115.0,401.0 116.5,402.5 118.0,401.5 119.5,399.5 121.0,395.0 123.0,390.5 125.0,388.0 126.0,389.5 127.5,386.0 128.5,384.5 129.5,387.5 130.5,390.0 132.0,387.0 133.5,383.0 135.0,380.0 136.0,379.5 137.0,384.0 138.0,387.0 139.0,384.0 140.0,388.0 141.0,390.0 142.5,389.0 144.0,388.0 145.0,386.0 146.0,381.0 146.8,376.5 148.0,380.0 149.5,383.0 151.0,384.0 152.5,384.5 154.0,387.0 156.0,390.5 157.5,389.5 158.5,391.0 159.5,386.0 160.5,383.0 161.5,386.5 162.5,382.0 163.5,379.0 165.0,378.0 166.5,376.5 167.5,374.0 168.5,377.0 169.5,381.0 170.5,384.0 172.0,381.5 174.0,379.5 176.0,377.5 178.0,376.5 180.0,375.0 182.0,373.0 184.0,371.5 185.0,374.0 186.5,378.0 188.0,378.5 189.5,373.5 190.5,377.0 192.5,373.5 194.0,375.0 195.5,378.0 197.0,380.5 198.0,379.5 199.0,378.5 200.0,384.0 201.0,388.0 202.0,390.5 203.0,387.0 204.0,382.0 205.5,378.0 207.0,375.0 208.0,373.5 209.0,377.0 210.5,380.5 211.5,384.0 212.5,387.0 213.5,384.0 215.0,380.0 216.0,379.5 217.0,382.0 218.0,382.5 219.0,380.0 220.0,377.5 221.5,375.5 223.0,378.0 224.0,380.5 225.0,379.0 226.5,380.0 228.0,382.0 229.5,383.0 230.5,385.5 232.0,379.5 233.0,378.5 234.0,380.0 235.0,378.0 236.0,382.0 237.0,384.5 238.5,383.5 240.0,382.5 241.5,380.0 242.5,377.0 243.5,378.5 245.0,380.0 246.5,378.0 247.5,380.5 249.0,380.0 250.0,380.5 251.5,382.0 253.0,384.0 254.5,384.0 256.0,385.0 257.5,384.0 258.5,381.0 260.0,379.0 261.5,377.0 262.5,374.5 263.5,373.5 265.0,375.5 266.0,373.0 267.5,371.5 269.0,369.5 270.0,370.0 271.0,374.5 272.0,371.0 273.5,368.0 275.0,365.5 276.5,363.5 278.5,361.5 279.5,366.0 280.5,376.0 281.5,380.0 283.0,382.0 284.5,380.5 286.0,381.5 287.0,384.0 288.0,387.5 289.5,390.0 290.5,390.5 292.0,386.0 293.5,382.0 295.0,379.5 296.5,384.0 298.0,386.0 299.5,387.0 301.0,382.0 302.0,384.5 303.5,388.0 305.0,390.5 306.0,393.0 307.0,397.0 308.5,400.5 310.0,396.0 311.5,392.0 313.0,393.5 314.5,395.0 316.0,392.0 317.5,388.5 319.0,387.0 320.5,383.0 321.5,387.0 322.5,391.0 324.0,394.0 326.5,396.0 328.0,393.5 330.0,391.0 332.0,389.0 333.5,388.0 334.5,382.0 335.5,375.5 337.0,378.0 338.5,381.0 339.5,384.0 340.5,387.0 342.0,384.5 344.0,382.5 346.0,380.5 347.5,380.0 348.5,385.0 349.5,391.0 350.5,384.5 352.0,385.0 353.5,384.0 355.0,385.5 356.5,380.0 357.5,374.0 358.5,371.5 359.5,371.0 360.5,375.5 361.5,379.0 363.0,378.0 364.5,376.0 366.0,373.5 367.0,372.5 368.0,376.0 369.0,378.0 370.0,375.0 371.5,376.5 373.0,377.0 374.5,378.0 376.0,380.5 377.5,376.0 379.0,377.0 380.5,376.0 381.5,380.0 383.0,381.0 384.5,384.5 385.5,383.0 387.0,380.5 388.5,381.5 390.0,384.0 391.0,386.0 392.0,383.5 393.0,382.0 394.0,385.0 395.5,387.5 397.0,389.0 398.0,393.0 399.0,397.0 400.0,400.0 401.5,405.5 402.5,399.0 403.5,395.5 405.0,393.5 406.0,393.5 407.5,395.0 409.0,397.0 411.0,398.0 412.5,399.5 414.0,402.0 415.0,403.0 416.0,399.5 417.0,396.5 418.0,396.0 419.5,398.5 421.0,399.5 422.5,399.5 423.5,393.0 424.5,389.5 425.5,390.5 426.5,393.5 427.5,394.5 428.5,391.0 429.5,392.5 431.0,396.0 432.5,400.0 434.0,403.5 434.8,404.0 436.0,399.0 437.0,395.5 438.0,393.0 439.0,394.0 440.0,390.5 441.5,387.0 443.0,384.5 444.5,381.5 445.5,380.0 446.5,382.5 447.5,385.0 449.0,384.0 450.5,385.5 452.0,383.5 453.0,386.0 454.5,388.5 456.0,390.0 457.5,388.5 458.5,387.5 459.5,391.5 460.5,389.0 461.5,387.0 463.0,390.0 464.0,394.0 465.5,395.0 466.5,398.0 467.5,401.5 469.0,402.0 470.0,397.5 471.5,394.0 473.5,390.5 475.0,394.0 476.5,390.5 478.0,390.5 480.0,390.0 481.5,387.5 483.0,383.0 484.5,382.5 486.0,386.0 487.5,389.0 488.5,390.0 490.0,385.0 491.5,384.5 493.0,385.0 494.5,387.0 496.0,385.0 497.5,389.0 499.0,394.0 500.5,399.0 502.0,400.0 503.5,402.0 505.0,391.5 506.5,395.0 508.0,393.5 509.5,400.0 511.0,405.0 511.8,406.5 513.0,402.0 514.5,397.5 516.0,393.5 517.5,391.0 519.0,393.5 520.5,391.0 522.0,391.5 523.5,392.5 524.5,393.5 526.0,388.5 527.5,386.0 529.0,382.0 530.5,383.0 531.5,380.0 533.0,377.0 534.5,379.5 536.0,382.0 538.0,383.0 540.0,384.0 541.5,381.0 542.5,379.5 544.0,388.0 545.5,392.0 547.0,395.0 548.5,389.5 550.0,397.0 551.5,400.5 553.0,395.5 554.5,394.5 556.0,396.5" fill="none" stroke="#3b9cf5" stroke-width="0.9" stroke-linejoin="round"/>
<path d="M1.95 434 L1.95 1.6 L565.95 1.6 L565.95 434 Z" fill="none" stroke="#505050" stroke-width="1.15"/>
<rect x="2" y="242.0" width="564" height="2.8" fill="#b4b4b4"/>
<line x1="1.4" y1="242.3" x2="566.6" y2="242.3" stroke="#454545" stroke-width="1.1"/>
<line x1="1.4" y1="244.5" x2="566.6" y2="244.5" stroke="#505050" stroke-width="1.1"/>
<rect x="2" y="338.0" width="564" height="2.8" fill="#b4b4b4"/>
<line x1="1.4" y1="338.29999999999995" x2="566.6" y2="338.29999999999995" stroke="#454545" stroke-width="1.1"/>
<line x1="1.4" y1="340.5" x2="566.6" y2="340.5" stroke="#505050" stroke-width="1.1"/>
<line x1="566" y1="17" x2="568" y2="17" stroke="#2a2a2a" stroke-width="1"/>
<text class="ax" x="570.3" y="19.7" textLength="24.0" lengthAdjust="spacingAndGlyphs">1.42150</text>
<line x1="566" y1="42.3" x2="568" y2="42.3" stroke="#2a2a2a" stroke-width="1"/>
<text class="ax" x="570.3" y="45.0" textLength="24.0" lengthAdjust="spacingAndGlyphs">1.39940</text>
<line x1="566" y1="67" x2="568" y2="67" stroke="#2a2a2a" stroke-width="1"/>
<text class="ax" x="570.3" y="69.7" textLength="24.0" lengthAdjust="spacingAndGlyphs">1.37730</text>
<line x1="566" y1="91.5" x2="568" y2="91.5" stroke="#2a2a2a" stroke-width="1"/>
<text class="ax" x="570.3" y="94.2" textLength="24.0" lengthAdjust="spacingAndGlyphs">1.35520</text>
<line x1="566" y1="116" x2="568" y2="116" stroke="#2a2a2a" stroke-width="1"/>
<text class="ax" x="570.3" y="118.7" textLength="24.0" lengthAdjust="spacingAndGlyphs">1.33310</text>
<line x1="566" y1="141.3" x2="568" y2="141.3" stroke="#2a2a2a" stroke-width="1"/>
<text class="ax" x="570.3" y="144.0" textLength="24.0" lengthAdjust="spacingAndGlyphs">1.31035</text>
<line x1="566" y1="166.2" x2="568" y2="166.2" stroke="#2a2a2a" stroke-width="1"/>
<text class="ax" x="570.3" y="168.9" textLength="24.0" lengthAdjust="spacingAndGlyphs">1.28825</text>
<line x1="566" y1="190.5" x2="568" y2="190.5" stroke="#2a2a2a" stroke-width="1"/>
<text class="ax" x="570.3" y="193.2" textLength="24.0" lengthAdjust="spacingAndGlyphs">1.26615</text>
<line x1="566" y1="215.7" x2="568" y2="215.7" stroke="#2a2a2a" stroke-width="1"/>
<text class="ax" x="570.3" y="218.4" textLength="24.0" lengthAdjust="spacingAndGlyphs">1.24405</text>
<line x1="566" y1="240.3" x2="568" y2="240.3" stroke="#2a2a2a" stroke-width="1"/>
<text class="ax" x="570.3" y="243.0" textLength="24.0" lengthAdjust="spacingAndGlyphs">1.22195</text>
<line x1="566" y1="245.2" x2="568" y2="245.2" stroke="#2a2a2a" stroke-width="0.9"/>
<line x1="566" y1="337.6" x2="568" y2="337.6" stroke="#2a2a2a" stroke-width="0.9"/>
<line x1="566" y1="341.2" x2="568" y2="341.2" stroke="#2a2a2a" stroke-width="0.9"/>
<rect x="566.7" y="91" width="31.5" height="8.7" fill="#000"/>
<text x="570.4" y="98.4" font-size="7.8" fill="#fff" stroke="#fff" stroke-width="0.15" textLength="24.3" lengthAdjust="spacingAndGlyphs">1.35176</text>
<text class="ax" x="568.6" y="252.3" textLength="27.7" lengthAdjust="spacingAndGlyphs">0.017047</text>
<line x1="566" y1="304" x2="568" y2="304" stroke="#2a2a2a" stroke-width="1"/>
<text class="ax" x="568.1" y="306.7" textLength="13.8" lengthAdjust="spacingAndGlyphs">0.00</text>
<text class="ax" x="568.6" y="335.9" textLength="29.7" lengthAdjust="spacingAndGlyphs">-0.010013</text>
<text class="ax" x="568.4" y="348.0" textLength="11.2" lengthAdjust="spacingAndGlyphs">100</text>
<text class="ax" x="567.7" y="371.9" textLength="7.4" lengthAdjust="spacingAndGlyphs">70</text>
<text class="ax" x="567.7" y="408.7" textLength="7.4" lengthAdjust="spacingAndGlyphs">30</text>
<text class="ax" x="568.9" y="432.1" textLength="3.7" lengthAdjust="spacingAndGlyphs">0</text>
<line x1="2.6" y1="434" x2="2.6" y2="437" stroke="#555" stroke-width="1"/>
<text class="ax" x="2.1" y="444.4" textLength="32.3" lengthAdjust="spacingAndGlyphs">9 Jun 2020</text>
<line x1="50.6" y1="434" x2="50.6" y2="437" stroke="#555" stroke-width="1"/>
<text class="ax" x="50.1" y="444.4" textLength="34.7" lengthAdjust="spacingAndGlyphs">23 Jul 2020</text>
<line x1="98.6" y1="434" x2="98.6" y2="437" stroke="#555" stroke-width="1"/>
<text class="ax" x="98.1" y="444.4" textLength="35" lengthAdjust="spacingAndGlyphs">7 Sep 2020</text>
<line x1="146.5" y1="434" x2="146.5" y2="437" stroke="#555" stroke-width="1"/>
<text class="ax" x="146.0" y="444.4" textLength="38" lengthAdjust="spacingAndGlyphs">21 Oct 2020</text>
<line x1="194.5" y1="434" x2="194.5" y2="437" stroke="#555" stroke-width="1"/>
<text class="ax" x="194.0" y="444.4" textLength="33.5" lengthAdjust="spacingAndGlyphs">4 Dec 2020</text>
<line x1="242.5" y1="434" x2="242.5" y2="437" stroke="#555" stroke-width="1"/>
<text class="ax" x="242.0" y="444.4" textLength="36" lengthAdjust="spacingAndGlyphs">21 Jan 2021</text>
<line x1="290.5" y1="434" x2="290.5" y2="437" stroke="#555" stroke-width="1"/>
<text class="ax" x="290.0" y="444.4" textLength="34.3" lengthAdjust="spacingAndGlyphs">8 Mar 2021</text>
<line x1="338.5" y1="434" x2="338.5" y2="437" stroke="#555" stroke-width="1"/>
<text class="ax" x="338.0" y="444.4" textLength="36.7" lengthAdjust="spacingAndGlyphs">21 Apr 2021</text>
<line x1="386.4" y1="434" x2="386.4" y2="437" stroke="#555" stroke-width="1"/>
<text class="ax" x="385.9" y="444.4" textLength="33.3" lengthAdjust="spacingAndGlyphs">4 Jun 2021</text>
<line x1="434.4" y1="434" x2="434.4" y2="437" stroke="#555" stroke-width="1"/>
<text class="ax" x="433.9" y="444.4" textLength="34" lengthAdjust="spacingAndGlyphs">20 Jul 2021</text>
<line x1="482.4" y1="434" x2="482.4" y2="437" stroke="#555" stroke-width="1"/>
<text class="ax" x="481.9" y="444.4" textLength="33.7" lengthAdjust="spacingAndGlyphs">2 Sep 2021</text>
<line x1="530.4" y1="434" x2="530.4" y2="437" stroke="#555" stroke-width="1"/>
<text class="ax" x="529.9" y="444.4" textLength="37.2" lengthAdjust="spacingAndGlyphs">18 Oct 2021</text>
<path d="M4.4 6.5 L10 6.5 L7.2 9.8 Z" fill="#000"/>
<text class="tt" x="13.9" y="10.7" textLength="47.7" lengthAdjust="spacingAndGlyphs">GBPUSD,Daily</text>
<text class="tt" x="66.6" y="10.7" textLength="23.8" lengthAdjust="spacingAndGlyphs">1.35565</text>
<text class="tt" x="93.5" y="10.7" textLength="23.8" lengthAdjust="spacingAndGlyphs">1.35645</text>
<text class="tt" x="120.6" y="10.7" textLength="23.8" lengthAdjust="spacingAndGlyphs">1.34787</text>
<text class="tt" x="147.7" y="10.7" textLength="23.8" lengthAdjust="spacingAndGlyphs">1.35176</text>
<text class="tt" x="5.85" y="253.8" textLength="49.4" lengthAdjust="spacingAndGlyphs">MACD(12,26,9)</text>
<text class="tt" x="58" y="253.8" textLength="29.7" lengthAdjust="spacingAndGlyphs">-0.004120</text>
<text class="tt" x="91" y="253.8" textLength="29.3" lengthAdjust="spacingAndGlyphs">-0.001236</text>
<text class="tt" x="5.8" y="350.1" textLength="23.4" lengthAdjust="spacingAndGlyphs">RSI(14)</text>
<text class="tt" x="32" y="350.1" textLength="23.8" lengthAdjust="spacingAndGlyphs">39.5481</text>
</svg></body></html>
